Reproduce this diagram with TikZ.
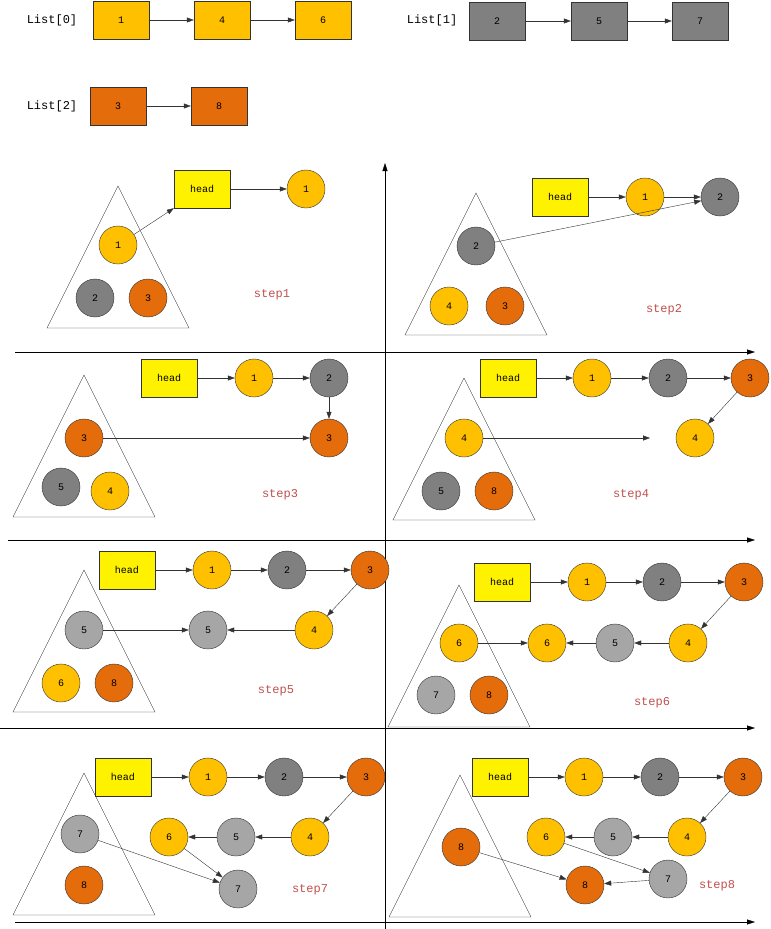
\documentclass[tikz,border=0pt]{standalone}
\usepackage{fontspec}
\setmainfont{Liberation Mono}
\usetikzlibrary{arrows.meta}
\definecolor{yel}{HTML}{FFC000}
\definecolor{gry}{HTML}{808080}
\definecolor{lgry}{HTML}{A6A6A6}
\definecolor{org}{HTML}{E46C0A}
\definecolor{stepred}{HTML}{C0504D}
\tikzstyle{vertex}=[circle,draw=black!80,minimum size=38pt,inner sep=0pt,font=\fontsize{10}{10}\selectfont]
\tikzstyle{box}=[rectangle,draw=black!80,minimum width=56pt,minimum height=38pt,inner sep=0pt,font=\fontsize{10}{10}\selectfont]
\tikzstyle{head}=[box,fill=yellow]
\tikzstyle{link}=[draw,->,>={Triangle[length=7pt,width=5pt]},black!80]
\tikzstyle{axis}=[draw,->,>={Triangle[length=8pt,width=5pt]},black]
\tikzstyle{heap}=[draw,black!80,thin]
\tikzstyle{step label}=[text=stepred,font=\fontsize{12}{12}\selectfont]
\tikzstyle{lab}=[font=\fontsize{12}{12}\selectfont]

\begin{document}
\begin{tikzpicture}[x=1pt,y=-1pt]
    \useasboundingbox (0,0) rectangle (771,929);
    % The input lists
    \node[lab] (L0) at (52,20) {List[0]};
    \node[lab] (L1) at (432,20) {List[1]};
    \node[lab] (L2) at (52,106) {List[2]};
    \foreach \pos/\name/\val/\col in {{(121,20)/a1/1/yel},{(222,20)/a4/4/yel},{(323,20)/a6/6/yel},
        {(497,21)/b2/2/gry},{(599,21)/b5/5/gry},{(700,21)/b7/7/gry},
        {(118,106)/c3/3/org},{(219,106)/c8/8/org}}
    \node[box,fill=\col] (\name) at \pos {\val};
    \foreach \source/\dest in {a1/a4, a4/a6, b2/b5, b5/b7, c3/c8}
    \path[link] (\source) -- (\dest);
    % Axes
    \coordinate (vb) at (385,929); \coordinate (vt) at (385,163);
    \path[axis] (vb) -- (vt);
    \foreach \y/\x in {352/15, 540/8, 728/0, 922/15}{
        \coordinate (h\y) at (\x,\y); \coordinate (e\y) at (755,\y);
        \path[axis] (h\y) -- (e\y);
    }
    % The heaps
    \foreach \ax/\ay/\name in {118/186/t1, 476/193/t2, 84/375/t3, 464/378/t4,
        84/570/t5, 459/585/t6, 84/773/t7, 460/775/t8}
    \path[heap] (\ax,\ay) -- ++(-71,142) -- ++(142,0) -- cycle;
    % The heads
    \foreach \pos/\name in {{(202,189)/H1},{(560,197)/H2},{(169,378)/H3},{(508,378)/H4},
        {(127,570)/H5},{(502,582)/H6},{(123,777)/H7},{(500,777)/H8}}
    \node[head] (\name) at \pos {head};
    % Heap and list vertices
    \foreach \pos/\name/\val/\col in {
        {(118,245)/p1/1/yel},{(95,298)/q1/2/gry},{(148,298)/r1/3/org},{(306,189)/n1a/1/yel},
        {(476,246)/p2/2/gry},{(449,306)/q2/4/yel},{(505,306)/r2/3/org},
        {(645,197)/n2a/1/yel},{(720,197)/n2b/2/gry},
        {(84,438)/p3/3/org},{(61,487)/q3/5/gry},{(110,491)/r3/4/yel},
        {(254,378)/n3a/1/yel},{(329,378)/n3b/2/gry},{(329,438)/n3c/3/org},
        {(464,438)/p4/4/yel},{(441,491)/q4/5/gry},{(494,491)/r4/8/org},
        {(592,378)/n4a/1/yel},{(668,378)/n4b/2/gry},{(750,378)/n4c/3/org},{(695,438)/n4d/4/yel},
        {(84,630)/p5/5/lgry},{(61,683)/q5/6/yel},{(114,683)/r5/8/org},
        {(212,570)/n5a/1/yel},{(287,570)/n5b/2/gry},{(370,570)/n5c/3/org},{(314,630)/n5d/4/yel},
        {(208,630)/n5e/5/lgry},
        {(459,643)/p6/6/yel},{(436,695)/q6/7/lgry},{(489,695)/r6/8/org},
        {(587,582)/n6a/1/yel},{(662,582)/n6b/2/gry},{(744,582)/n6c/3/org},{(688,643)/n6d/4/yel},
        {(615,643)/n6e/5/lgry},{(547,643)/n6f/6/yel},
        {(80,834)/p7/7/lgry},{(84,885)/q7/8/org},
        {(208,777)/n7a/1/yel},{(284,777)/n7b/2/gry},{(366,777)/n7c/3/org},{(310,837)/n7d/4/yel},
        {(236,837)/n7e/5/lgry},{(169,837)/n7f/6/yel},{(238,889)/n7g/7/lgry},
        {(461,847)/p8/8/org},
        {(584,777)/n8a/1/yel},{(660,777)/n8b/2/gry},{(743,777)/n8c/3/org},{(687,837)/n8d/4/yel},
        {(613,837)/n8e/5/lgry},{(546,837)/n8f/6/yel},{(668,879)/n8g/7/lgry},{(585,885)/n8h/8/org}}
    \node[vertex,fill=\col] (\name) at \pos {\val};
    % Free end in step4
    \coordinate (f4) at (650,438);
    \coordinate (H1c) at (H1.south west);
    % Links
    \foreach \source/\dest in {
        p1/H1c, H1/n1a,
        H2/n2a, n2a/n2b, p2/n2b,
        H3/n3a, n3a/n3b, n3b/n3c, p3/n3c,
        H4/n4a, n4a/n4b, n4b/n4c, n4c/n4d, p4/f4,
        H5/n5a, n5a/n5b, n5b/n5c, n5c/n5d, n5d/n5e, p5/n5e,
        H6/n6a, n6a/n6b, n6b/n6c, n6c/n6d, n6d/n6e, n6e/n6f, p6/n6f,
        H7/n7a, n7a/n7b, n7b/n7c, n7c/n7d, n7d/n7e, n7e/n7f, n7f/n7g, p7/n7g,
        H8/n8a, n8a/n8b, n8b/n8c, n8c/n8d, n8d/n8e, n8e/n8f, n8f/n8g, n8g/n8h, p8/n8h}
    \path[link] (\source) -- (\dest);
    % Step labels
    \foreach \pos/\name/\txt in {{(272,295)/s1/step1},{(664,310)/s2/step2},{(280,495)/s3/step3},
        {(631,495)/s4/step4},{(276,691)/s5/step5},{(652,703)/s6/step6},{(310,890)/s7/step7},
        {(717,886)/s8/step8}}
    \node[step label] (\name) at \pos {\txt};
\end{tikzpicture}
\end{document}
